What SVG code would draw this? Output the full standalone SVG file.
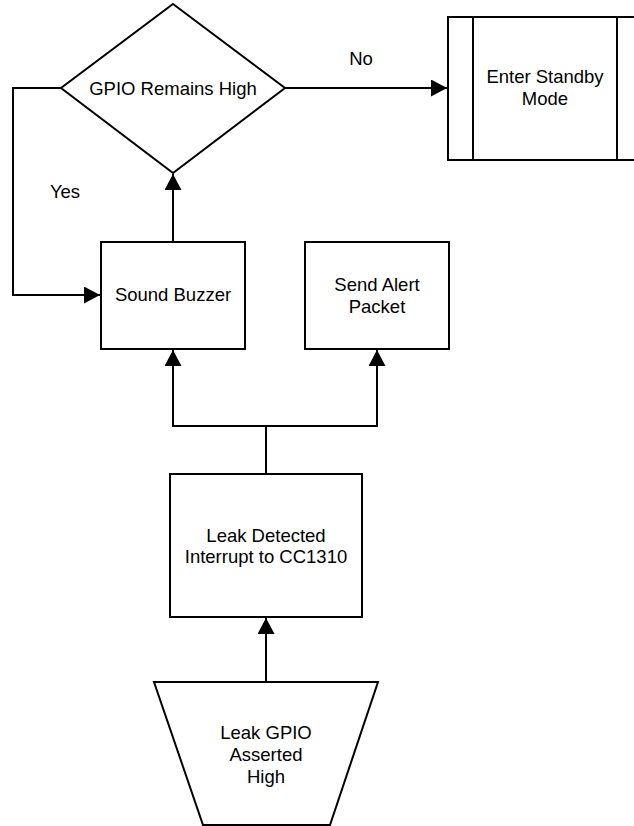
<svg xmlns="http://www.w3.org/2000/svg" width="634" height="826" viewBox="0 0 634 826">
<style>
.s{fill:#fff;stroke:#000;stroke-width:2;stroke-linejoin:miter}
.c{fill:none;stroke:#000;stroke-width:2}
text{font-family:"Liberation Sans",Arial,sans-serif;font-size:18.5px;fill:#000;text-anchor:middle}
</style>
<defs>
<marker id="ah" viewBox="0 0 16 17" refX="16" refY="8.5" markerWidth="16" markerHeight="17" markerUnits="userSpaceOnUse" orient="auto">
<path d="M0,0 L16,8.5 L0,17 Z" fill="#000"/>
</marker>
</defs>
<rect width="634" height="826" fill="#fff"/>
<g id="connectors">
<path class="c" d="M173,242 L173,174" marker-end="url(#ah)"/>
<path class="c" d="M61,88 L13,88 L13,295 L100,295" marker-end="url(#ah)"/>
<path class="c" d="M285,88 L447,88" marker-end="url(#ah)"/>
<path class="c" d="M266,474 L266,426 L173,426 L173,350" marker-end="url(#ah)"/>
<path class="c" d="M266,426 L377,426 L377,350" marker-end="url(#ah)"/>
<path class="c" d="M266,682 L266,618" marker-end="url(#ah)"/>
</g>
<g id="decision">
<polygon class="s" points="173,4 285,88 173,173 61,88"/>
<text x="173" y="95">GPIO Remains High</text>
</g>
<g id="standby">
<rect class="s" x="448" y="17" width="194" height="143"/>
<line class="c" x1="473" y1="17" x2="473" y2="160"/>
<line class="c" x1="617" y1="17" x2="617" y2="160"/>
<text x="545" y="83">Enter Standby</text>
<text x="545" y="105">Mode</text>
</g>
<g id="buzzer">
<rect class="s" x="101" y="242" width="144" height="107"/>
<text x="173" y="301">Sound Buzzer</text>
</g>
<g id="alert">
<rect class="s" x="305" y="242" width="144" height="107"/>
<text x="377" y="291">Send Alert</text>
<text x="377" y="313">Packet</text>
</g>
<g id="interrupt">
<rect class="s" x="170" y="474" width="192" height="143"/>
<text x="266" y="542">Leak Detected</text>
<text x="266" y="563">Interrupt to CC1310</text>
</g>
<g id="gpio">
<polygon class="s" points="154,682 378,682 330,825 203,825"/>
<text x="266" y="739">Leak GPIO</text>
<text x="266" y="761">Asserted</text>
<text x="266" y="783">High</text>
</g>
<g id="labels">
<text x="361" y="65">No</text>
<text x="65" y="198">Yes</text>
</g>
</svg>
